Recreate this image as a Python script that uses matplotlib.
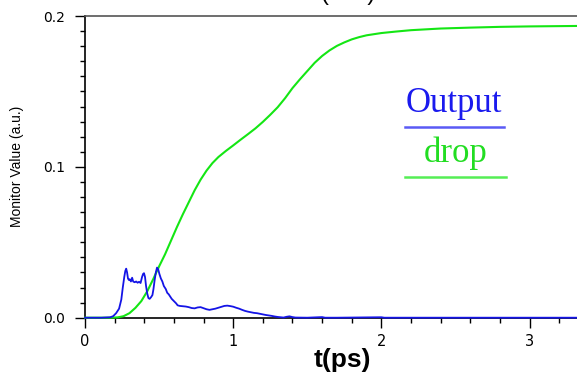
import matplotlib
matplotlib.use('Agg')
import matplotlib.pyplot as plt
from matplotlib.ticker import MultipleLocator

# Output monitor (blue)
out_t = [0.0, 0.11, 0.15, 0.17, 0.19, 0.21, 0.23, 0.245, 0.255, 0.265, 0.272, 0.278, 0.284, 0.29, 0.296,
         0.302, 0.31, 0.318, 0.325, 0.335, 0.345, 0.355, 0.365, 0.375, 0.385, 0.392, 0.398, 0.405,
         0.412, 0.42, 0.428, 0.436, 0.445, 0.455, 0.462, 0.47, 0.478, 0.486, 0.494, 0.502, 0.512,
         0.522, 0.532, 0.545, 0.555, 0.565, 0.575, 0.585, 0.595, 0.605, 0.615, 0.625, 0.64, 0.66,
         0.68, 0.7, 0.72, 0.74, 0.76, 0.78, 0.8, 0.82, 0.84, 0.86, 0.88, 0.9, 0.92, 0.94, 0.96,
         0.98, 1.0, 1.02, 1.04, 1.06, 1.08, 1.1, 1.12, 1.14, 1.16, 1.18, 1.2, 1.22, 1.24, 1.26,
         1.28, 1.3, 1.32, 1.34, 1.36, 1.38, 1.4, 1.42, 1.5, 1.6, 1.62, 1.7, 2.0, 2.02, 2.3, 3.32]
out_v = [0.0, 0.0, 0.0002, 0.0003, 0.001, 0.003, 0.006, 0.012, 0.02, 0.027, 0.031, 0.0325, 0.03, 0.026, 0.025,
         0.0255, 0.024, 0.0265, 0.024, 0.0235, 0.024, 0.0232, 0.0238, 0.023, 0.027, 0.029, 0.0295, 0.027,
         0.021, 0.016, 0.013, 0.0125, 0.0135, 0.015, 0.019, 0.025, 0.03, 0.0332, 0.032, 0.029, 0.026,
         0.024, 0.021, 0.019, 0.0165, 0.0155, 0.014, 0.0125, 0.0115, 0.0105, 0.0095, 0.0082, 0.0078, 0.0076,
         0.0074, 0.007, 0.0064, 0.0062, 0.0068, 0.007, 0.0063, 0.0056, 0.0052, 0.0056, 0.006, 0.0066, 0.0072, 0.0078, 0.008,
         0.0077, 0.0073, 0.0066, 0.006, 0.0052, 0.0045, 0.004, 0.0036, 0.0032, 0.003, 0.0026, 0.0022, 0.0018, 0.0015, 0.0012,
         0.0008, 0.0005, 0.0003, 0.0001, 0.0006, 0.0009, 0.0004, 0.0001, 0.0, 0.0004, 0.0, 0.0, 0.0003, 0.0, 0.0, 0.0]

# drop monitor (green)
drop_t = [0.0, 0.17, 0.22, 0.26, 0.3, 0.34, 0.38, 0.42, 0.46, 0.5, 0.54, 0.58, 0.62, 0.66, 0.7, 0.74,
          0.78, 0.82, 0.86, 0.9, 0.95, 1.0, 1.05, 1.1, 1.15, 1.2, 1.25, 1.3, 1.35, 1.4, 1.45, 1.5,
          1.55, 1.6, 1.65, 1.7, 1.75, 1.8, 1.85, 1.9, 2.0, 2.1, 2.2, 2.4, 2.6, 2.8, 3.0, 3.32]
drop_v = [0.0, 0.0, 0.0002, 0.001, 0.003, 0.0065, 0.011, 0.0175, 0.0255, 0.034, 0.042, 0.051, 0.06, 0.0685, 0.0765, 0.0845,
          0.0915, 0.0975, 0.1025, 0.1065, 0.1105, 0.1142, 0.118, 0.1217, 0.1255, 0.1298, 0.1345, 0.1395, 0.1455, 0.1522, 0.158, 0.1635,
          0.169, 0.1735, 0.1772, 0.1802, 0.1825, 0.1845, 0.186, 0.1872, 0.1887, 0.1897, 0.1906, 0.1917, 0.1923, 0.1928, 0.1931, 0.1934]

x_ticks = [0, 1, 2, 3]
y_ticks = [0.0, 0.1, 0.2]
y_ticklabels = ['0.0', '0.1', '0.2']

blue = '#1414e6'
green = '#14e614'

plt.rcParams['font.family'] = ['Liberation Sans', 'DejaVu Sans']

fig = plt.figure(figsize=(5.77, 3.74), dpi=100)
ax = fig.add_axes([85 / 577, 1 - 317.7 / 374, 1 - 85 / 577, (317.7 - 16) / 374])

ax.plot(drop_t, drop_v, color=green, lw=1.5, clip_on=False, zorder=3)
ax.plot(out_t, out_v, color=blue, lw=1.3, clip_on=False, zorder=4)

ax.set_xlim(0, 3.32)
ax.set_ylim(0, 0.2)
ax.set_xticks(x_ticks)
ax.set_yticks(y_ticks)
ax.set_yticklabels(y_ticklabels)
ax.xaxis.set_minor_locator(MultipleLocator(0.2))
ax.yaxis.set_minor_locator(MultipleLocator(0.01))
ax.tick_params(axis='both', which='major', direction='out', length=7.5, width=1.0, color='black')
ax.tick_params(axis='both', which='minor', direction='out', length=3.6, width=1.0, color='black')
ax.tick_params(axis='x', which='major', pad=4.5)
ax.tick_params(axis='y', which='major', pad=7)
for lab in ax.get_xticklabels():
    lab.set_family('DejaVu Sans')
    lab.set_fontsize(10.5)
for lab in ax.get_yticklabels():
    lab.set_family('DejaVu Sans')
    lab.set_fontsize(10)

ax.spines['right'].set_visible(False)
ax.spines['top'].set_color('#555555')
ax.spines['top'].set_linewidth(1.2)
ax.spines['left'].set_linewidth(1.2)
ax.spines['bottom'].set_linewidth(1.2)

fig.text(17 / 577, 1 - 166 / 374, 'Monitor Value (a.u.)', rotation=90, fontsize=10,
         ha='center', va='center')
fig.text(342 / 577, 1 - 360 / 374, 't(ps)', fontsize=19, fontweight='bold',
         ha='center', va='center')
# title, cut off by the top of the image
fig.text(348 / 577, 1.0, '(a.u.)', fontsize=17, ha='center', va='baseline')

# hand drawn legend
serif = ['Liberation Serif', 'DejaVu Serif']
fig.text(454 / 577, 1 - 111.7 / 374, 'Output', fontsize=25, color='#1a1aee', family=serif,
         ha='center', va='baseline')
fig.text(456 / 577, 1 - 161.7 / 374, 'drop', fontsize=25, color='#22dd22', family=serif,
         ha='center', va='baseline')
fig.add_artist(plt.Line2D([405 / 577, 504 / 577], [1 - 127 / 374] * 2, color='#5a5af5', lw=1.8))
fig.add_artist(plt.Line2D([405 / 577, 506 / 577], [1 - 177.3 / 374] * 2, color='#55ee55', lw=1.8))

fig.savefig('out.png', dpi=100)
